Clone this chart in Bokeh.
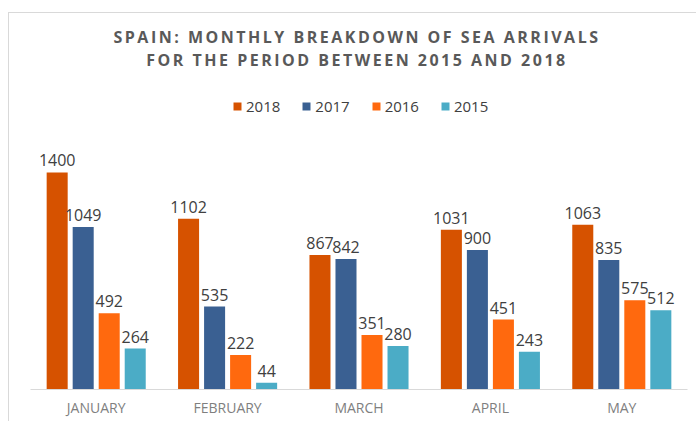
from bokeh.plotting import figure
from bokeh.models import ColumnDataSource, Div, Range1d, FactorRange
from bokeh.transform import dodge
from bokeh.layouts import column
from bokeh.embed import file_html
from bokeh.resources import INLINE
from bokeh.core.properties import value

months = ["JANUARY", "FEBRUARY", "MARCH", "APRIL", "MAY"]
years = ["2018", "2017", "2016", "2015"]
arr_2018 = [1400, 1102, 867, 1031, 1063]
arr_2017 = [1049, 535, 842, 900, 835]
arr_2016 = [492, 222, 351, 451, 575]
arr_2015 = [264, 44, 280, 243, 512]
title_lines = ["SPAIN: MONTHLY BREAKDOWN OF SEA ARRIVALS",
               "FOR THE PERIOD BETWEEN 2015 AND 2018"]

colors = ["#D65200", "#3A6092", "#FF690E", "#4BACC6"]
offsets = [-0.297, -0.099, 0.099, 0.297]
series = [arr_2018, arr_2017, arr_2016, arr_2015]

data = {"month": months}
for yr, vals in zip(years, series):
    data["v" + yr] = vals
    data["t" + yr] = [str(v) for v in vals]
src = ColumnDataSource(data)

FONT = "Open Sans"

p = figure(x_range=FactorRange(*months, range_padding=0),
           y_range=Range1d(0, 1961),
           width=687, height=336, margin=(0, 0, 0, 8),
           output_backend="svg", toolbar_location=None,
           min_border_left=21, min_border_right=9,
           min_border_top=0, min_border_bottom=32)
p.styles = {"border-left": "1px solid #d9d9d9"}
p.outline_line_color = None
p.xgrid.visible = False
p.ygrid.visible = False
p.yaxis.visible = False

for yr, col, off in zip(years, colors, offsets):
    p.vbar(x=dodge("month", off, range=p.x_range), top="v" + yr, width=0.16,
           source=src, fill_color=col, line_color=None, legend_label=yr)
    p.text(x=dodge("month", off, range=p.x_range), y="v" + yr, text="t" + yr,
           source=src, text_align="center", text_baseline="alphabetic",
           y_offset=-12, text_font=value(FONT), text_font_size="16px",
           text_color="#404040")

ax = p.xaxis[0]
ax.axis_line_color = "#d9d9d9"
ax.axis_line_width = 1
ax.major_tick_line_color = None
ax.minor_tick_line_color = None
ax.major_tick_out = 0
ax.major_tick_in = 0
ax.major_label_standoff = 8
ax.major_label_text_font = FONT
ax.major_label_text_font_size = "14px"
ax.major_label_text_color = "#7f7f7f"

lg = p.legend[0]
lg.location = (202, 273)
lg.orientation = "horizontal"
lg.margin = 0
lg.padding = 9
lg.label_height = 20
lg.glyph_height = 10
lg.glyph_width = 10
lg.label_standoff = 4
lg.spacing = 21
lg.border_line_color = None
lg.background_fill_alpha = 0
lg.label_text_font = FONT
lg.label_text_font_size = "15px"
lg.label_text_color = "#404040"

outer_style = ("padding-top:12px;padding-left:8px;height:85px;width:696px;"
               "box-sizing:border-box;")
inner_style = ("height:73px;width:688px;box-sizing:border-box;"
               "border-top:1px solid #d9d9d9;border-left:1px solid #d9d9d9;"
               "padding-top:13px;padding-left:9px;"
               "font-family:'Open Sans';font-weight:bold;font-size:16px;"
               "color:#595959;letter-spacing:2.5px;line-height:23px;"
               "text-align:center;white-space:nowrap")
title = Div(text='<div style="%s"><div style="%s">%s</div></div>'
            % (outer_style, inner_style, "<br>".join(title_lines)),
            width=696, height=85, margin=0)

layout = column(title, p, margin=0)

open("out.html", "w").write(file_html(layout, INLINE))
